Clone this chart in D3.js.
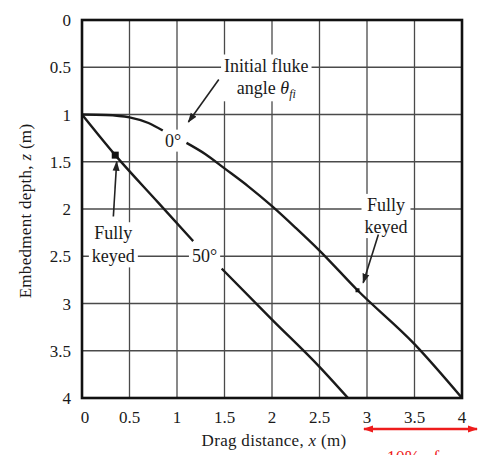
<!DOCTYPE html>
<html>
<head>
<meta charset="utf-8">
<script src="https://cdn.jsdelivr.net/npm/d3@7"></script>
<style>
  body { margin: 0; background: #fff; }
  svg text { font-family: "Liberation Serif", "DejaVu Serif", serif; fill: #1a1a1a; }
</style>
</head>
<body>
<div id="chart"></div>
<script>
// axis ticks
const xTicks = [0, 0.5, 1, 1.5, 2, 2.5, 3, 3.5, 4]
const zTicks = [0, 0.5, 1, 1.5, 2, 2.5, 3, 3.5, 4]

// 0 deg curve (null = gap behind the label)
const curve0x = [0, 0.25, 0.5, 0.7, 0.85, null, 1.1, 1.3, 1.5, 1.75, 2, 2.25, 2.5, 2.9, 3.5, 4]
const curve0z = [1, 1.005, 1.03, 1.09, 1.17, null, 1.3, 1.42, 1.57, 1.76, 1.97, 2.2, 2.44, 2.86, 3.43, 4]

// 50 deg curve
const curve50x = [0, 0.35, 0.8, 1.17, null, 1.47, 2, 2.5, 2.8]
const curve50z = [1, 1.43, 1.93, 2.34, null, 2.63, 3.17, 3.67, 4]

// fully keyed points
const keyedX = [0.35, 2.9]
const keyedZ = [1.43, 2.86]

const width = 479, height = 455
const x = d3.scaleLinear().domain([0, 4]).range([82, 462])
const y = d3.scaleLinear().domain([0, 4]).range([20, 398])

const svg = d3.select("#chart").append("svg")
    .attr("width", width)
    .attr("height", height)

const defs = svg.append("defs")
function arrowMarker(id, color, orient) {
    defs.append("marker")
        .attr("id", id)
        .attr("viewBox", "0 0 10 10")
        .attr("refX", 9).attr("refY", 5)
        .attr("markerWidth", 10).attr("markerHeight", 10)
        .attr("markerUnits", "userSpaceOnUse")
        .attr("orient", orient)
        .append("path")
        .attr("d", "M0,1.5 L10,5 L0,8.5 Z")
        .attr("fill", color)
}
arrowMarker("ah", "#222", "auto")
arrowMarker("red", "#ee1c1c", "auto-start-reverse")

// grid
svg.append("g").selectAll("line")
    .data(xTicks.slice(1, -1))
    .join("line")
    .attr("x1", d => x(d)).attr("x2", d => x(d))
    .attr("y1", y(0)).attr("y2", y(4))
    .attr("stroke", "#4a4a4a").attr("stroke-width", 1.3)

svg.append("g").selectAll("line")
    .data(zTicks.slice(1, -1))
    .join("line")
    .attr("y1", d => y(d)).attr("y2", d => y(d))
    .attr("x1", x(0)).attr("x2", x(4))
    .attr("stroke", "#4a4a4a").attr("stroke-width", 1.3)

// tick labels
svg.append("g").selectAll("text")
    .data(xTicks)
    .join("text")
    .attr("x", d => x(d) + (d == 0 ? 3 : 0))
    .attr("y", 423)
    .attr("text-anchor", "middle")
    .style("font-size", "17px")
    .text(d => d)

svg.append("g").selectAll("text")
    .data(zTicks)
    .join("text")
    .attr("x", 71)
    .attr("y", d => y(d) + 6)
    .attr("text-anchor", "end")
    .style("font-size", "17px")
    .text(d => d)

// axis titles
const xTitle = svg.append("text")
    .attr("x", 274).attr("y", 446)
    .attr("text-anchor", "middle")
    .style("font-size", "17px")
    .style("letter-spacing", "0.3px")
xTitle.append("tspan").text("Drag distance, ")
xTitle.append("tspan").style("font-style", "italic").text("x")
xTitle.append("tspan").text(" (m)")

const yTitle = svg.append("text")
    .attr("transform", "translate(31,211) rotate(-90)")
    .attr("text-anchor", "middle")
    .style("font-size", "17px")
    .style("letter-spacing", "0.3px")
yTitle.append("tspan").text("Embedment depth, ")
yTitle.append("tspan").style("font-style", "italic").text("z")
yTitle.append("tspan").text(" (m)")

// labels with white backing (they cut the grid lines)
const labelLayer = svg.append("g")
function label(lines, cx, z0, dz, size) {
    const g = labelLayer.append("g")
    const rect = g.append("rect").attr("fill", "#fff")
    lines.forEach(function (ln, i) {
        const t = g.append("text")
            .attr("x", x(cx))
            .attr("y", y(z0 + i * dz))
            .attr("text-anchor", "middle")
            .style("font-size", size + "px")
        ln.forEach(function (part) {
            const s = t.append("tspan").text(part.t)
            if (part.it) s.style("font-style", "italic")
            if (part.sub) s.attr("baseline-shift", "-30%").style("font-size", "12px")
        })
    })
    const bb = g.node().getBBox()
    rect.attr("x", bb.x - 3).attr("y", bb.y - 1)
        .attr("width", bb.width + 6).attr("height", bb.height + 2)
}

// curves
const line = d3.line()
    .defined(d => d[0] != null)
    .curve(d3.curveMonotoneX)
    .x(d => x(d[0]))
    .y(d => y(d[1]))

svg.append("path")
    .datum(curve0x.map((v, i) => [v, curve0z[i]]))
    .attr("d", line)
    .attr("fill", "none").attr("stroke", "#1a1a1a").attr("stroke-width", 2.4)

svg.append("path")
    .datum(curve50x.map((v, i) => [v, curve50z[i]]))
    .attr("d", line)
    .attr("fill", "none").attr("stroke", "#1a1a1a").attr("stroke-width", 2.4)

label([[{ t: "Initial fluke" }], [{ t: "angle " }, { t: "θ", it: true }, { t: "fi", it: true, sub: true }]], 1.94, 0.545, 0.235, 18)
label([[{ t: "0°" }]], 0.96, 1.34, 0, 18)
label([[{ t: "Fully" }], [{ t: "keyed" }]], 0.33, 2.32, 0.245, 18)
label([[{ t: "50°" }]], 1.29, 2.56, 0, 18)
label([[{ t: "Fully" }], [{ t: "keyed" }]], 3.2, 2.02, 0.235, 18)

// keyed markers
svg.append("g").selectAll("rect")
    .data(keyedX.map((v, i) => [v, keyedZ[i]]))
    .join("rect")
    .attr("x", (d, i) => x(d[0]) - (i == 0 ? 3.5 : 2))
    .attr("y", (d, i) => y(d[1]) - (i == 0 ? 3.5 : 2))
    .attr("width", (d, i) => i == 0 ? 7 : 4)
    .attr("height", (d, i) => i == 0 ? 7 : 4)
    .attr("fill", "#111")

// pointer arrows: [x1, z1, x2, z2]
const pointers = [[1.44, 0.63, 1.12, 1.08], [0.33, 2.08, 0.365, 1.5], [3.12, 2.27, 2.96, 2.78]]
svg.append("g").selectAll("line")
    .data(pointers)
    .join("line")
    .attr("x1", d => x(d[0])).attr("y1", d => y(d[1]))
    .attr("x2", d => x(d[2])).attr("y2", d => y(d[3]))
    .attr("stroke", "#222").attr("stroke-width", 1.6)
    .attr("marker-end", "url(#ah)")

// frame
svg.append("rect")
    .attr("x", x(0)).attr("y", y(0))
    .attr("width", x(4) - x(0)).attr("height", y(4) - y(0))
    .attr("fill", "none").attr("stroke", "#111").attr("stroke-width", 2.6)

// red annotation below the axis
svg.append("line")
    .attr("x1", 364).attr("x2", 477)
    .attr("y1", 429).attr("y2", 429)
    .attr("stroke", "#ee1c1c").attr("stroke-width", 2.4)
    .attr("marker-start", "url(#red)")
    .attr("marker-end", "url(#red)")

svg.append("text")
    .attr("x", 377).attr("y", 464)
    .style("font-size", "18px")
    .style("fill", "#ee1c1c")
    .text("~10% of")
</script>
</body>
</html>
